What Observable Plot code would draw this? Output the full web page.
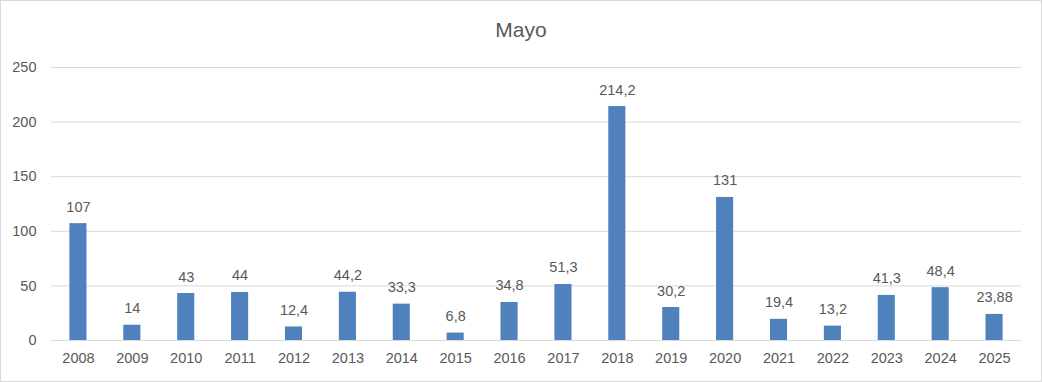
<!DOCTYPE html>
<html><head><meta charset="utf-8">
<script src="https://cdn.jsdelivr.net/npm/d3@7"></script>
<script src="https://cdn.jsdelivr.net/npm/@observablehq/plot@0.6"></script>
<style>
body{margin:0;background:#fff;}
#wrap{width:1040px;height:380px;border:1px solid #d9d9d9;font-family:"Liberation Sans",Arial,sans-serif;color:#595959;background:#fff;}
#title{height:50px;line-height:58px;text-align:center;font-size:21px;color:#595959;}
</style></head>
<body><div id="wrap"><div id="title">Mayo</div><div id="chart"></div></div>
<script>
const years = ["2008","2009","2010","2011","2012","2013","2014","2015","2016","2017","2018","2019","2020","2021","2022","2023","2024","2025"];
const values = [107,14,43,44,12.4,44.2,33.3,6.8,34.8,51.3,214.2,30.2,131,19.4,13.2,41.3,48.4,23.88];
const yTicks = [0,50,100,150,200,250];
const data = years.map((y,i)=>({year:y,value:values[i],label:String(values[i]).replace(".",",")}));
const plot = Plot.plot({
  width:1040, height:330,
  marginLeft:50, marginRight:20, marginTop:16, marginBottom:41,
  style:{fontFamily:"Liberation Sans, Arial, sans-serif",fontSize:"14.5px",color:"#595959",background:"#fff"},
  x:{domain:years,padding:0,round:false,label:null,tickSize:0,tickPadding:12},
  y:{domain:[0,250],label:null,ticks:yTicks,tickSize:0,tickPadding:15},
  marks:[
    Plot.ruleY(yTicks,{stroke:"#d9d9d9",strokeWidth:1}),
    Plot.barY(data,{x:"year",y:"value",fill:"#4f81bd",insetLeft:18.4,insetRight:18.4}),
    Plot.text(data,{x:"year",y:"value",text:"label",lineAnchor:"bottom",dy:-12,fill:"#595959",fontSize:14.5}),
    Plot.axisX({tickSize:0,tickPadding:12,label:null,fontSize:14.5}),
    Plot.axisY({ticks:yTicks,tickSize:0,tickPadding:15,label:null,fontSize:14.5})
  ]
});
document.getElementById("chart").appendChild(plot);
</script></body></html>
